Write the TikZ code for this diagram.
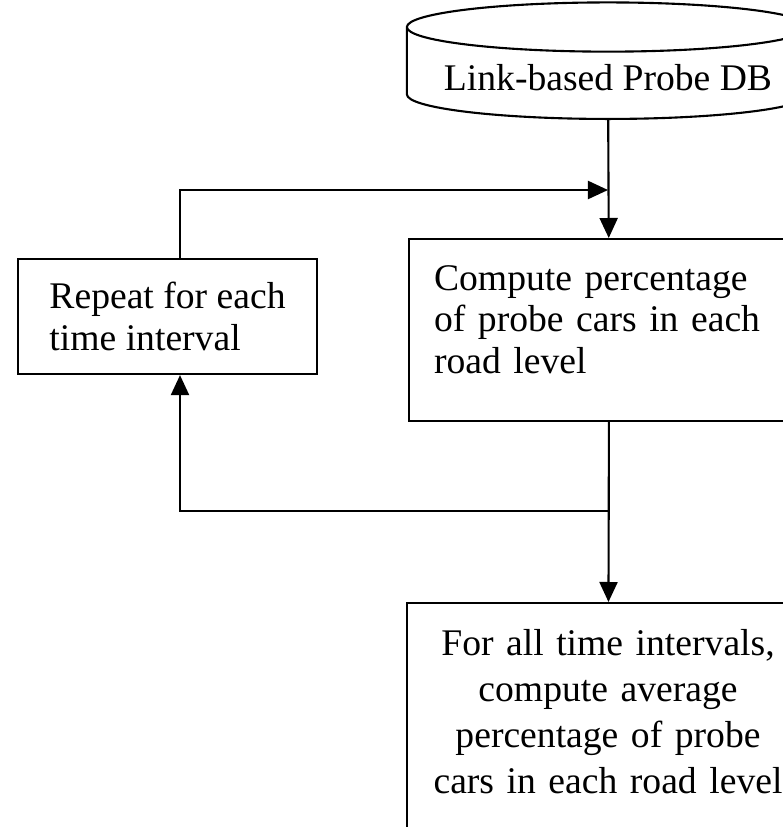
\documentclass[tikz,border=0pt]{standalone}
\usepackage{fontspec}
\setmainfont{Liberation Serif}
\usetikzlibrary{shapes.geometric, arrows.meta}
\tikzstyle{stepbox}=[draw, rectangle, line width=0.6pt, font=\fontsize{10.7}{11.8}\selectfont]
\tikzstyle{dbase}=[draw, cylinder, shape border rotate=90, aspect=0.14, line width=0.6pt,
minimum width=4.02cm, minimum height=1.08cm, font=\fontsize{10.7}{11.8}\selectfont]
\tikzstyle{flow}=[->, line width=0.6pt]

\begin{document}
\begin{tikzpicture}[x=0.01cm,y=-0.01cm,>={Triangle[length=0.2cm,width=0.18cm]}]
      \useasboundingbox (0,0) rectangle (783,827);
      \clip (0,0) rectangle (783,827);
      \node [dbase, anchor=south] (db) at (608,120) {Link-based Probe DB};
      \node [stepbox, anchor=north west, minimum width=4cm, minimum height=1.82cm,
        text width=3.5cm, align=left, text depth=1.05cm] (comp) at (408,238)
        {Compute percentage\\of probe cars in each\\road level};
      \node [stepbox, minimum width=2.99cm, minimum height=1.15cm,
        align=left] (rep) at (167.5,316.5)
        {Repeat for each\\time interval};
      \node [stepbox, anchor=north, minimum width=4.01cm, text width=3.6cm,
        align=center, inner ysep=0.26cm, text depth=3cm,
        font=\fontsize{10.7}{13.1}\selectfont] (avg) at (608,602)
        {For all time intervals,\\compute average\\percentage of probe\\cars in each road level};
      \coordinate (merge) at (608,190);
      \coordinate (loop) at (180,190);
      \coordinate (split) at (608,511);
      % main chain
      \draw[flow] (db) -- (comp);
      \draw[flow] (comp) -- (avg);
      % loop back
      \draw[flow] (split) -| (rep.south -| loop);
      \draw[flow] (rep.north -| loop) |- (merge);
\end{tikzpicture}
\end{document}
